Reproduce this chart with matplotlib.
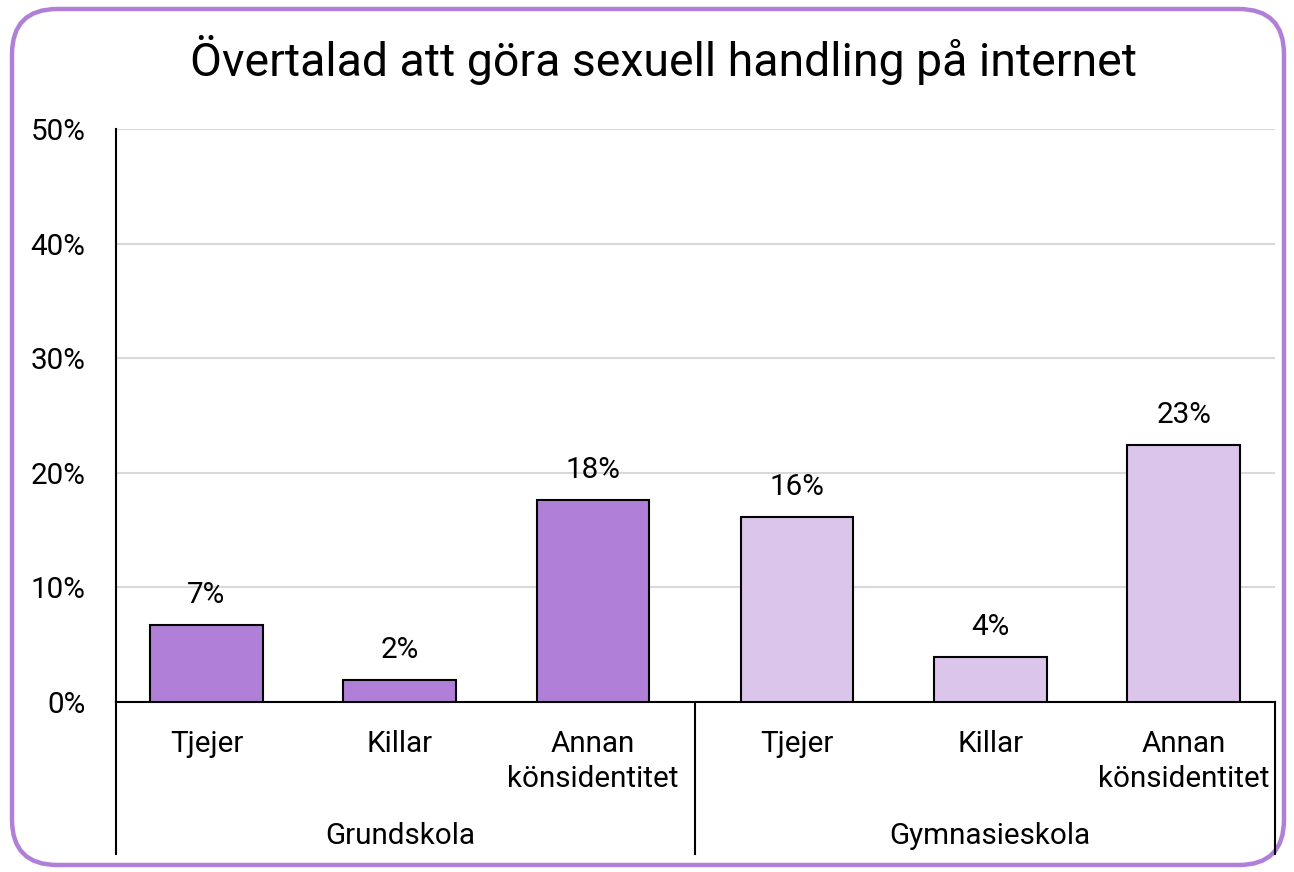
import matplotlib
matplotlib.use("Agg")
import matplotlib.pyplot as plt
from matplotlib.patches import FancyBboxPatch
from matplotlib.lines import Line2D

plt.rcParams['font.family'] = ['Roboto', 'DejaVu Sans']

title = "Övertalad att göra sexuell handling på internet"
categories = ["Tjejer", "Killar", "Annan\nkönsidentitet", "Tjejer", "Killar", "Annan\nkönsidentitet"]
groups = ["Grundskola", "Gymnasieskola"]
group_of = [0, 0, 0, 1, 1, 1]
values = [6.7, 1.9, 17.6, 16.1, 3.9, 22.4]
labels = ["7%", "2%", "18%", "16%", "4%", "23%"]
colors = ["#B07FD7"] * 3 + ["#DBC5EB"] * 3
yticks = [0, 10, 20, 30, 40, 50]

W, H = 1294, 872
FS = 21.3
fig = plt.figure(figsize=(W / 100, H / 100), dpi=100)

# rounded border
border = FancyBboxPatch((12 / W, 7 / H), (W - 22) / W, (H - 16) / H,
                        boxstyle="round,pad=0,rounding_size=0.035",
                        transform=fig.transFigure, facecolor="white",
                        edgecolor="#B07FD7", linewidth=3.2, zorder=0,
                        mutation_aspect=W / H)
fig.patches.append(border)

ax_l, ax_r, ax_t, ax_b = 116, 1275, 129, 702
ax = fig.add_axes([ax_l / W, 1 - ax_b / H, (ax_r - ax_l) / W, (ax_b - ax_t) / H])
ax.set_facecolor("none")
ax.set_zorder(2)

gap = 0.055
x = [i + gap * g for i, g in enumerate(group_of)]
ax.bar(x, values, width=0.584, color=colors, edgecolor="black", linewidth=1.5, zorder=3)
for xi, v, lab in zip(x, values, labels):
    ax.annotate(lab, (xi, v), xytext=(0, 21.8), textcoords="offset points",
                ha="center", va="center", fontsize=FS)

ax.set_xlim(-0.468, 5.528)
ax.set_ylim(0, 50)
ax.set_yticks(yticks)
ax.set_yticklabels([f"{t}%" for t in yticks], fontsize=FS)
ax.yaxis.grid(True, color="#D9D9D9", linewidth=1.5, zorder=0)
ax.set_axisbelow(True)
ax.tick_params(axis="y", length=0, pad=22)
ax.tick_params(axis="x", length=0)
ax.set_xticks([])
for s in ["top", "right"]:
    ax.spines[s].set_visible(False)
ax.spines["left"].set_linewidth(1.5)
ax.spines["bottom"].set_linewidth(1.5)

tr = ax.get_xaxis_transform()
hpx = ax_b - ax_t
# category labels
for xi, c in zip(x, categories):
    ax.text(xi, -(742 - 702 - 12) / hpx, c, transform=tr, fontsize=FS, ha="center",
            va="top", linespacing=1.31, clip_on=False)

# group labels
for g, name in enumerate(groups):
    gx = [xi for xi, gg in zip(x, group_of) if gg == g]
    ax.text(sum(gx) / len(gx), -(836 - 702) / hpx, name, transform=tr,
            fontsize=FS, ha="center", va="center", clip_on=False)

# separator lines
ybot = -(854 - 702) / hpx
div = (x[2] + x[3]) / 2
for xs in [-0.468, div, 5.528]:
    ax.add_line(Line2D([xs, xs], [0, ybot], transform=tr,
                       color="black", linewidth=1.5, clip_on=False))

fig.text(663 / W, 1 - 60 / H, title, fontsize=33.4, ha="center", va="center")

fig.savefig("out.png", dpi=100)
